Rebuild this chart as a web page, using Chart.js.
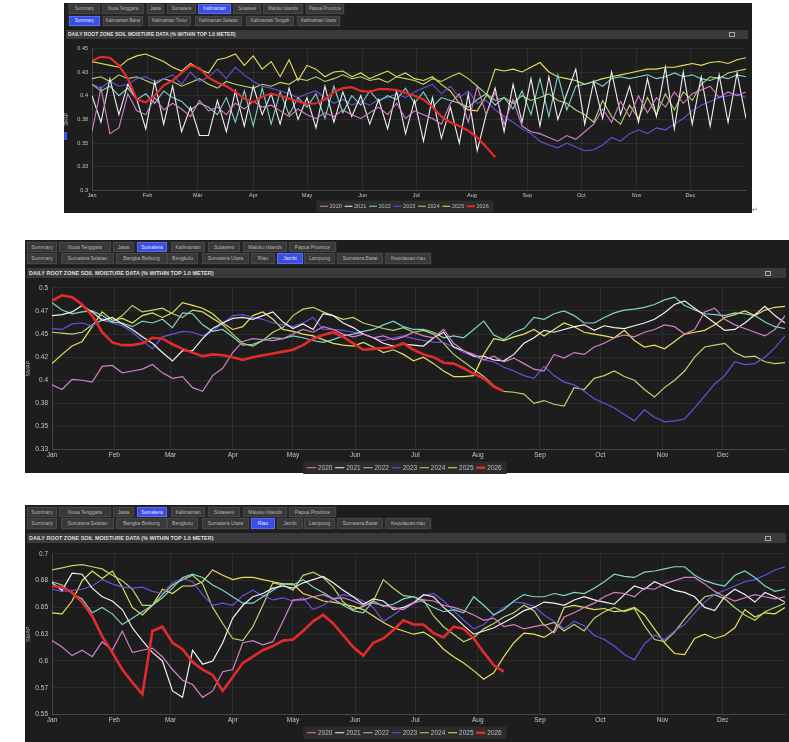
<!DOCTYPE html>
<html>
<head>
<meta charset="UTF-8">
<title>SMAP soil moisture</title>
<script src="https://cdn.jsdelivr.net/npm/chart.js"></script>
<style>
body{margin:0;background:#fff;width:789px;height:742px;position:relative;overflow:hidden;font-family:"Liberation Sans",Arial,sans-serif}
.panel{position:absolute;background:#1d1d1d}
.strip{position:absolute;background:#262626}
.tab{position:absolute;box-sizing:border-box;background:#393939;border:1px solid #474747;color:#b5b5b5;text-align:center;white-space:nowrap;overflow:hidden}
.tab.on{background:#3a4de4;border-color:#5b6cf2;color:#e6e8ff}
.bar{position:absolute;background:#3a3a3a;color:#dedede;font-weight:bold;white-space:nowrap;box-sizing:border-box;padding-left:2px}
.ico{position:absolute;width:4px;height:3px;border:1px solid #aaa}
canvas{position:absolute}
</style>
</head>
<body>
<div class="panel" style="left:64px;top:3px;width:688px;height:210px"></div>
<div class="panel" style="left:25px;top:240px;width:764px;height:233px"></div>
<div class="panel" style="left:25px;top:505px;width:764px;height:237px"></div>
<div id="tabs"></div>
<div class="bar" style="left:66px;top:30px;width:682px;height:9px;font-size:5px;line-height:9px">DAILY ROOT ZONE SOIL MOISTURE DATA (% WITHIN TOP 1.0 METER)</div>
<div class="ico" style="left:729px;top:32px"></div>
<div class="bar" style="left:27px;top:268px;width:759px;height:10px;font-size:5.5px;line-height:10px">DAILY ROOT ZONE SOIL MOISTURE DATA (% WITHIN TOP 1.0 METER)</div>
<div class="ico" style="left:765px;top:271px"></div>
<div class="bar" style="left:27px;top:533px;width:759px;height:10px;font-size:5.5px;line-height:10px">DAILY ROOT ZONE SOIL MOISTURE DATA (% WITHIN TOP 1.0 METER)</div>
<div class="ico" style="left:765px;top:536px"></div>
<div style="position:absolute;left:64px;top:132px;width:3px;height:8px;background:#3a4de4"></div>
<div style="position:absolute;left:752px;top:206px;font-size:7px;color:#777">&#8629;</div>

<canvas id="kal" width="688" height="178" style="left:64px;top:41px"></canvas>
<canvas id="jambi" width="762" height="201" style="left:25px;top:280px"></canvas>
<canvas id="riau" width="762" height="200" style="left:25px;top:546px"></canvas>

<script>
// ---- categories / tick labels ----
const years = ['2020', '2021', '2022', '2023', '2024', '2025', '2026'];
const monthNames = ['Jan', 'Feb', 'Mar', 'Apr', 'May', 'Jun', 'Jul', 'Aug', 'Sep', 'Oct', 'Nov', 'Dec'];
const monthStartDays = [0, 31, 59, 90, 120, 151, 181, 212, 243, 273, 304, 334];
// one reading every 5 days of the year (day 0 = 1 Jan), last one on day 365
const sampleDays = Array.from({length: 74}, (_, i) => Math.min(i * 5, 365));

const kalTicks = [0.3, 0.325, 0.35, 0.375, 0.4, 0.425, 0.45];
const kalTickLabels = ['0.3', '0.33', '0.35', '0.38', '0.4', '0.43', '0.45'];
const jambiTicks = [0.325, 0.35, 0.375, 0.4, 0.425, 0.45, 0.475, 0.5];
const jambiTickLabels = ['0.33', '0.35', '0.38', '0.4', '0.42', '0.45', '0.47', '0.5'];
const riauTicks = [0.55, 0.575, 0.6, 0.625, 0.65, 0.675, 0.7];
const riauTickLabels = ['0.55', '0.57', '0.6', '0.63', '0.65', '0.68', '0.7'];

// ---- Kalimantan (summary) ----
const kal2020 = [
  0.362,0.408,0.360,0.366,0.402,0.384,0.380,0.398,0.385,0.392,
  0.386,0.378,0.395,0.384,0.388,0.380,0.392,0.386,0.394,0.388,
  0.390,0.384,0.378,0.386,0.380,0.376,0.382,0.378,0.385,0.380,
  0.376,0.382,0.388,0.380,0.392,0.376,0.384,0.380,0.376,0.370,
  0.392,0.402,0.372,0.410,0.380,0.404,0.370,0.396,0.368,0.362,
  0.360,0.356,0.352,0.358,0.354,0.362,0.370,0.386,0.372,0.394,
  0.378,0.400,0.382,0.398,0.388,0.404,0.392,0.402,0.406,0.410,
  0.398,0.404,0.400,0.404];
const kal2021 = [
  0.400,0.372,0.418,0.380,0.412,0.396,0.365,0.415,0.370,0.410,
  0.362,0.388,0.358,0.358,0.395,0.362,0.405,0.368,0.410,0.380,
  0.402,0.370,0.408,0.375,0.398,0.366,0.410,0.372,0.404,0.378,
  0.400,0.370,0.396,0.365,0.405,0.360,0.395,0.352,0.398,0.355,
  0.388,0.350,0.402,0.342,0.380,0.408,0.362,0.412,0.372,0.418,
  0.368,0.420,0.375,0.402,0.428,0.370,0.415,0.376,0.425,0.380,
  0.410,0.372,0.418,0.378,0.430,0.365,0.425,0.370,0.420,0.368,
  0.422,0.372,0.424,0.376];
const kal2022 = [
  0.412,0.405,0.410,0.400,0.408,0.396,0.402,0.392,0.405,0.398,
  0.394,0.385,0.392,0.388,0.380,0.398,0.372,0.405,0.368,0.408,
  0.370,0.404,0.380,0.398,0.388,0.402,0.376,0.410,0.382,0.400,
  0.390,0.405,0.394,0.400,0.396,0.408,0.392,0.404,0.388,0.398,
  0.395,0.392,0.388,0.396,0.402,0.390,0.398,0.386,0.405,0.380,
  0.418,0.378,0.422,0.385,0.410,0.412,0.415,0.410,0.418,0.420,
  0.418,0.420,0.422,0.418,0.420,0.424,0.420,0.422,0.418,0.416,
  0.420,0.418,0.422,0.420];
const kal2023 = [
  0.412,0.408,0.415,0.410,0.412,0.418,0.420,0.415,0.418,0.422,
  0.412,0.425,0.415,0.420,0.428,0.418,0.430,0.422,0.415,0.410,
  0.408,0.405,0.402,0.398,0.402,0.405,0.398,0.392,0.396,0.390,
  0.394,0.390,0.396,0.398,0.402,0.398,0.404,0.408,0.412,0.402,
  0.410,0.398,0.405,0.392,0.395,0.385,0.378,0.372,0.365,0.360,
  0.352,0.348,0.345,0.350,0.346,0.342,0.343,0.348,0.356,0.352,
  0.360,0.364,0.360,0.366,0.364,0.370,0.376,0.384,0.390,0.394,
  0.398,0.400,0.402,0.398];
const kal2024 = [
  0.418,0.420,0.415,0.422,0.418,0.420,0.416,0.412,0.418,0.415,
  0.410,0.414,0.418,0.412,0.408,0.415,0.412,0.410,0.408,0.412,
  0.410,0.414,0.412,0.418,0.416,0.420,0.415,0.418,0.422,0.418,
  0.420,0.416,0.418,0.414,0.420,0.418,0.416,0.412,0.418,0.415,
  0.420,0.424,0.418,0.410,0.402,0.395,0.398,0.392,0.400,0.395,
  0.398,0.402,0.395,0.392,0.385,0.380,0.372,0.395,0.378,0.370,
  0.390,0.376,0.398,0.380,0.402,0.385,0.404,0.395,0.412,0.420,
  0.418,0.424,0.426,0.428];
const kal2025 = [
  0.436,0.434,0.432,0.430,0.438,0.442,0.444,0.440,0.436,0.430,
  0.426,0.434,0.428,0.424,0.438,0.440,0.444,0.432,0.442,0.428,
  0.436,0.420,0.438,0.416,0.432,0.428,0.420,0.425,0.426,0.420,
  0.424,0.418,0.422,0.426,0.420,0.424,0.418,0.416,0.420,0.412,
  0.405,0.392,0.385,0.384,0.400,0.428,0.426,0.428,0.425,0.430,
  0.435,0.425,0.420,0.418,0.416,0.412,0.415,0.418,0.420,0.422,
  0.424,0.426,0.428,0.428,0.430,0.430,0.432,0.434,0.432,0.435,
  0.436,0.434,0.438,0.440];
const kal2026 = [
  0.437,0.441,0.440,0.432,0.418,0.396,0.393,0.400,0.411,0.416,
  0.424,0.432,0.429,0.419,0.414,0.410,0.404,0.397,0.393,0.399,
  0.402,0.400,0.397,0.394,0.391,0.392,0.396,0.404,0.408,0.409,
  0.405,0.404,0.407,0.407,0.406,0.403,0.400,0.396,0.388,0.378,
  0.372,0.368,0.363,0.356,0.346,0.335];

// ---- Sumatera / Jambi ----
const jambi2020 = [
  0.395,0.390,0.401,0.400,0.398,0.415,0.416,0.408,0.410,0.412,
  0.417,0.408,0.402,0.404,0.392,0.388,0.405,0.413,0.430,0.442,
  0.445,0.444,0.443,0.445,0.450,0.455,0.452,0.458,0.455,0.450,
  0.447,0.450,0.446,0.448,0.444,0.447,0.452,0.448,0.446,0.455,
  0.440,0.432,0.428,0.422,0.426,0.420,0.424,0.418,0.412,0.410,
  0.428,0.424,0.430,0.428,0.436,0.440,0.446,0.449,0.447,0.452,
  0.455,0.460,0.458,0.450,0.455,0.474,0.478,0.466,0.460,0.456,
  0.452,0.448,0.455,0.470];
const jambi2021 = [
  0.470,0.471,0.474,0.481,0.474,0.465,0.468,0.461,0.455,0.447,
  0.440,0.430,0.421,0.432,0.432,0.445,0.456,0.462,0.467,0.468,
  0.466,0.470,0.474,0.463,0.456,0.461,0.455,0.472,0.470,0.462,
  0.457,0.450,0.446,0.440,0.437,0.439,0.438,0.437,0.446,0.452,
  0.436,0.432,0.426,0.426,0.422,0.421,0.428,0.440,0.446,0.454,
  0.452,0.455,0.458,0.460,0.454,0.459,0.457,0.456,0.459,0.462,
  0.466,0.473,0.482,0.486,0.478,0.470,0.462,0.454,0.455,0.462,
  0.471,0.480,0.470,0.462];
const jambi2022 = [
  0.484,0.476,0.472,0.474,0.475,0.470,0.463,0.462,0.458,0.464,
  0.462,0.466,0.457,0.473,0.472,0.460,0.453,0.455,0.447,0.438,
  0.439,0.443,0.446,0.445,0.448,0.446,0.443,0.441,0.444,0.448,
  0.450,0.453,0.455,0.460,0.464,0.458,0.455,0.455,0.452,0.446,
  0.448,0.446,0.455,0.464,0.449,0.444,0.452,0.456,0.468,0.466,
  0.472,0.475,0.470,0.462,0.462,0.468,0.473,0.476,0.477,0.479,
  0.482,0.487,0.490,0.481,0.476,0.472,0.471,0.470,0.473,0.472,
  0.470,0.463,0.458,0.456];
const jambi2023 = [
  0.456,0.455,0.461,0.462,0.459,0.467,0.462,0.459,0.452,0.443,
  0.434,0.447,0.450,0.453,0.452,0.448,0.453,0.462,0.470,0.471,
  0.468,0.466,0.462,0.460,0.458,0.462,0.468,0.455,0.455,0.454,
  0.452,0.450,0.446,0.443,0.446,0.448,0.445,0.443,0.441,0.441,
  0.436,0.430,0.426,0.422,0.420,0.414,0.410,0.405,0.402,0.415,
  0.405,0.398,0.395,0.388,0.380,0.375,0.370,0.363,0.356,0.368,
  0.360,0.355,0.356,0.358,0.370,0.383,0.396,0.405,0.420,0.417,
  0.418,0.425,0.435,0.448];
const jambi2024 = [
  0.452,0.451,0.450,0.452,0.460,0.465,0.463,0.470,0.481,0.474,
  0.476,0.478,0.472,0.468,0.476,0.474,0.467,0.460,0.450,0.440,
  0.437,0.443,0.452,0.457,0.470,0.477,0.479,0.474,0.470,0.466,
  0.468,0.462,0.459,0.456,0.454,0.457,0.452,0.454,0.450,0.440,
  0.428,0.420,0.412,0.404,0.394,0.388,0.387,0.385,0.375,0.378,
  0.374,0.372,0.392,0.390,0.402,0.405,0.410,0.404,0.400,0.390,
  0.382,0.392,0.400,0.410,0.425,0.436,0.438,0.440,0.430,0.425,
  0.426,0.420,0.418,0.419];
const jambi2025 = [
  0.418,0.428,0.437,0.442,0.458,0.474,0.465,0.467,0.462,0.470,
  0.473,0.468,0.473,0.484,0.481,0.478,0.472,0.462,0.455,0.458,
  0.470,0.474,0.466,0.455,0.453,0.450,0.448,0.444,0.440,0.438,
  0.437,0.441,0.436,0.430,0.433,0.428,0.421,0.425,0.418,0.410,
  0.404,0.404,0.405,0.428,0.445,0.443,0.447,0.450,0.455,0.448,
  0.455,0.462,0.458,0.452,0.450,0.448,0.446,0.454,0.443,0.436,
  0.438,0.434,0.442,0.450,0.452,0.454,0.460,0.468,0.471,0.475,
  0.470,0.476,0.479,0.480];
const jambi2026 = [
  0.486,0.492,0.490,0.482,0.470,0.452,0.441,0.438,0.438,0.440,
  0.446,0.445,0.439,0.434,0.430,0.426,0.428,0.427,0.425,0.422,
  0.425,0.427,0.429,0.431,0.433,0.438,0.445,0.449,0.452,0.447,
  0.440,0.433,0.434,0.435,0.436,0.440,0.433,0.428,0.425,0.419,
  0.418,0.413,0.407,0.402,0.393,0.388];

// ---- Sumatera / Riau ----
const riau2020 = [
  0.619,0.613,0.605,0.610,0.604,0.618,0.610,0.628,0.608,0.610,
  0.612,0.604,0.592,0.582,0.578,0.566,0.572,0.590,0.592,0.617,
  0.619,0.615,0.618,0.637,0.657,0.657,0.660,0.662,0.658,0.659,
  0.656,0.652,0.654,0.652,0.650,0.648,0.654,0.657,0.656,0.652,
  0.650,0.647,0.643,0.638,0.640,0.632,0.634,0.630,0.632,0.634,
  0.626,0.641,0.645,0.650,0.654,0.660,0.664,0.663,0.660,0.668,
  0.667,0.672,0.675,0.678,0.678,0.672,0.665,0.660,0.656,0.659,
  0.662,0.660,0.658,0.660];
const riau2021 = [
  0.673,0.666,0.682,0.681,0.668,0.660,0.656,0.648,0.631,0.619,
  0.608,0.600,0.572,0.566,0.610,0.597,0.600,0.617,0.640,0.652,
  0.660,0.663,0.668,0.670,0.668,0.673,0.676,0.679,0.673,0.666,
  0.660,0.653,0.658,0.656,0.648,0.650,0.654,0.662,0.660,0.650,
  0.642,0.633,0.625,0.628,0.631,0.636,0.641,0.647,0.650,0.655,
  0.654,0.652,0.657,0.660,0.657,0.655,0.653,0.662,0.670,0.667,
  0.674,0.670,0.666,0.664,0.660,0.650,0.647,0.660,0.667,0.662,
  0.655,0.664,0.660,0.655];
const riau2022 = [
  0.674,0.671,0.663,0.658,0.645,0.650,0.644,0.634,0.640,0.646,
  0.652,0.659,0.668,0.678,0.681,0.678,0.671,0.666,0.660,0.654,
  0.654,0.660,0.666,0.672,0.671,0.676,0.669,0.664,0.658,0.652,
  0.647,0.645,0.656,0.651,0.653,0.658,0.660,0.655,0.650,0.646,
  0.648,0.645,0.660,0.652,0.643,0.648,0.656,0.662,0.660,0.660,
  0.663,0.661,0.664,0.663,0.668,0.674,0.681,0.679,0.678,0.683,
  0.684,0.686,0.688,0.688,0.680,0.675,0.672,0.670,0.680,0.684,
  0.678,0.670,0.665,0.667];
const riau2023 = [
  0.667,0.665,0.666,0.667,0.670,0.676,0.672,0.669,0.668,0.669,
  0.665,0.663,0.673,0.677,0.674,0.662,0.652,0.654,0.652,0.661,
  0.666,0.661,0.657,0.659,0.656,0.659,0.648,0.652,0.658,0.662,
  0.660,0.656,0.650,0.637,0.643,0.650,0.655,0.661,0.663,0.656,
  0.647,0.638,0.630,0.634,0.643,0.650,0.655,0.654,0.651,0.643,
  0.637,0.630,0.637,0.633,0.624,0.620,0.614,0.606,0.601,0.616,
  0.624,0.620,0.628,0.634,0.645,0.655,0.662,0.666,0.670,0.674,
  0.676,0.680,0.685,0.688];
const riau2024 = [
  0.685,0.687,0.689,0.690,0.688,0.686,0.680,0.675,0.667,0.652,
  0.652,0.662,0.671,0.676,0.680,0.672,0.650,0.635,0.621,0.619,
  0.632,0.652,0.673,0.671,0.666,0.680,0.683,0.678,0.669,0.655,
  0.648,0.651,0.656,0.676,0.668,0.661,0.660,0.657,0.642,0.632,
  0.625,0.618,0.622,0.630,0.635,0.641,0.645,0.652,0.647,0.633,
  0.636,0.628,0.634,0.628,0.640,0.646,0.650,0.646,0.649,0.633,
  0.620,0.618,0.627,0.639,0.650,0.660,0.662,0.658,0.650,0.643,
  0.638,0.646,0.650,0.654];
const riau2025 = [
  0.645,0.644,0.656,0.675,0.684,0.677,0.684,0.669,0.650,0.643,
  0.652,0.667,0.663,0.670,0.670,0.674,0.685,0.680,0.676,0.678,
  0.678,0.676,0.674,0.672,0.672,0.663,0.660,0.656,0.655,0.653,
  0.651,0.648,0.642,0.636,0.631,0.628,0.625,0.627,0.621,0.611,
  0.604,0.598,0.591,0.583,0.589,0.604,0.617,0.626,0.625,0.622,
  0.628,0.650,0.652,0.650,0.648,0.649,0.646,0.647,0.650,0.643,
  0.630,0.617,0.607,0.606,0.621,0.625,0.621,0.624,0.631,0.648,
  0.641,0.645,0.644,0.650];
const riau2026 = [
  0.670,0.669,0.664,0.655,0.642,0.623,0.608,0.592,0.580,0.569,
  0.628,0.632,0.617,0.611,0.599,0.592,0.587,0.572,0.585,0.598,
  0.604,0.610,0.614,0.619,0.620,0.628,0.637,0.643,0.635,0.624,
  0.613,0.605,0.617,0.621,0.629,0.638,0.634,0.634,0.626,0.622,
  0.632,0.630,0.621,0.608,0.596,0.590];

// ---- drawing ----
const lineColors = ['#d681c4', '#f2f2f2', '#7fd5c9', '#6a50e0', '#b9d66c', '#e9e05c', '#e42b2b'];

Chart.defaults.font.family = '"Liberation Sans", Arial, sans-serif';
Chart.defaults.animation = false;

const legendBox = {
    id: 'legendBox',
    beforeDraw(chart) {
        const boxes = chart.legend && chart.legend.legendHitBoxes;
        if (!boxes || !boxes.length) return;
        let l = Infinity, r = -Infinity, t = Infinity, b = -Infinity;
        boxes.forEach(function (h) {
            l = Math.min(l, h.left); r = Math.max(r, h.left + h.width);
            t = Math.min(t, h.top); b = Math.max(b, h.top + h.height);
        });
        const ctx = chart.ctx;
        ctx.save();
        ctx.fillStyle = '#2c2c2c';
        ctx.fillRect(l - 5, t - 3, r - l + 10, b - t + 6);
        ctx.restore();
    }
};

function drawPanel(id, series, yMin, yMax, yTicks, yLabels, o) {
    const datasets = years.map(function (y, i) {
        return {
            label: y,
            data: series[i].map(function (v, k) { return {x: sampleDays[k], y: v}; }),
            borderColor: lineColors[i],
            backgroundColor: lineColors[i],
            borderWidth: i === 6 ? o.redWidth : o.lineWidth,
            pointRadius: 0,
            tension: 0,
            order: i === 6 ? -1 : i
        };
    });
    const grid = {color: 'rgba(255,255,255,0.07)', drawTicks: false};
    new Chart(document.getElementById(id), {
        type: 'line',
        data: {datasets: datasets},
        options: {
            responsive: false,
            layout: {padding: {top: o.padTop, right: o.padRight, left: 0, bottom: 0}},
            scales: {
                x: {
                    type: 'linear', min: 0, max: 365,
                    afterBuildTicks: function (s) { s.ticks = monthStartDays.map(function (v) { return {value: v}; }); },
                    afterFit: function (s) { s.height = o.xH; },
                    ticks: {
                        color: '#c6c6c6', font: {size: o.fs}, padding: 2, maxRotation: 0, autoSkip: false,
                        callback: function (v) { return monthNames[monthStartDays.indexOf(v)]; }
                    },
                    grid: grid,
                    border: {color: 'rgba(255,255,255,0.12)'}
                },
                y: {
                    min: yMin, max: yMax,
                    afterBuildTicks: function (s) { s.ticks = yTicks.map(function (v) { return {value: v}; }); },
                    afterFit: function (s) { s.width = o.yW; },
                    ticks: {
                        color: '#c6c6c6', font: {size: o.fs}, padding: 4,
                        callback: function (v, i) { return yLabels[i]; }
                    },
                    title: {display: true, text: 'SMAP', color: '#b0b0b0', font: {size: o.fs - 1}, padding: 0},
                    grid: grid,
                    border: {color: 'rgba(255,255,255,0.12)'}
                }
            },
            plugins: {
                legend: {
                    position: 'bottom',
                    labels: {
                        usePointStyle: true, pointStyle: 'line', color: '#bdbdbd',
                        font: {size: o.fs}, padding: 4,
                        sort: function (a, b) { return a.datasetIndex - b.datasetIndex; }
                    }
                },
                tooltip: {enabled: false}
            }
        },
        plugins: [legendBox]
    });
}

drawPanel('kal', [kal2020, kal2021, kal2022, kal2023, kal2024, kal2025, kal2026],
    0.3, 0.45, kalTicks, kalTickLabels,
    {padTop: 5, padRight: 6, yW: 28, xH: 9, fs: 5.5, lineWidth: 1.1, redWidth: 2.2});
drawPanel('jambi', [jambi2020, jambi2021, jambi2022, jambi2023, jambi2024, jambi2025, jambi2026],
    0.325, 0.5, jambiTicks, jambiTickLabels,
    {padTop: 5, padRight: 2, yW: 27, xH: 11, fs: 6.5, lineWidth: 1.2, redWidth: 2.6});
drawPanel('riau', [riau2020, riau2021, riau2022, riau2023, riau2024, riau2025, riau2026],
    0.55, 0.7, riauTicks, riauTickLabels,
    {padTop: 5, padRight: 2, yW: 27, xH: 11, fs: 6.5, lineWidth: 1.2, redWidth: 2.6});

// ---- dashboard tab rows (page coordinates: label, left, width, active) ----
const regionTabs = ['Summary', 'Nusa Tenggara', 'Jawa', 'Sumatera', 'Kalimantan', 'Sulawesi', 'Maluku Islands', 'Papua Province'];
const kalTabs = ['Summary', 'Kalimantan Barat', 'Kalimantan Timur', 'Kalimantan Selatan', 'Kalimantan Tengah', 'Kalimantan Utara'];
const sumTabs = ['Summary', 'Sumatera Selatan', 'Bangka Belitung', 'Bengkulu', 'Sumatera Utara', 'Riau', 'Jambi', 'Lampung', 'Sumatera Barat', 'Kepulauan-riau'];

function tabRow(labels, lefts, widths, active, top, h, fs, stripRight) {
    const host = document.getElementById('tabs');
    const strip = document.createElement('div');
    strip.className = 'strip';
    strip.style.cssText = 'left:' + (lefts[0] - 2) + 'px;top:' + (top - 1) + 'px;width:' + (stripRight - lefts[0] + 2) + 'px;height:' + (h + 2) + 'px';
    host.appendChild(strip);
    labels.forEach(function (t, i) {
        const d = document.createElement('div');
        d.className = 'tab' + (i === active ? ' on' : '');
        d.style.cssText = 'left:' + lefts[i] + 'px;top:' + top + 'px;width:' + widths[i] + 'px;height:' + h + 'px;font-size:' + fs + 'px;line-height:' + (h - 2) + 'px';
        d.textContent = t;
        host.appendChild(d);
    });
}

tabRow(regionTabs, [69, 102, 147, 167, 198, 233, 263, 306], [31, 42, 17, 29, 33, 28, 40, 38], 4, 4, 10, 4.5, 345);
tabRow(kalTabs, [69, 103, 148, 195, 246, 297], [31, 40, 43, 47, 48, 43], 0, 16, 10, 4.5, 341);
tabRow(regionTabs, [27, 59, 113, 137, 171, 208, 243, 289], [30, 52, 21, 30, 34, 32, 44, 47], 3, 242, 10, 5, 337);
tabRow(sumTabs, [27, 61, 116, 167, 202, 251, 277, 304, 337, 385], [30, 53, 51, 31, 47, 24, 26, 31, 46, 46], 6, 253, 11, 5, 432);
tabRow(regionTabs, [27, 59, 113, 137, 171, 208, 243, 289], [30, 52, 21, 30, 34, 32, 44, 47], 3, 507, 10, 5, 337);
tabRow(sumTabs, [27, 61, 116, 167, 202, 251, 277, 304, 337, 385], [30, 53, 51, 31, 47, 24, 26, 31, 46, 46], 5, 518, 11, 5, 432);
</script>
</body>
</html>
